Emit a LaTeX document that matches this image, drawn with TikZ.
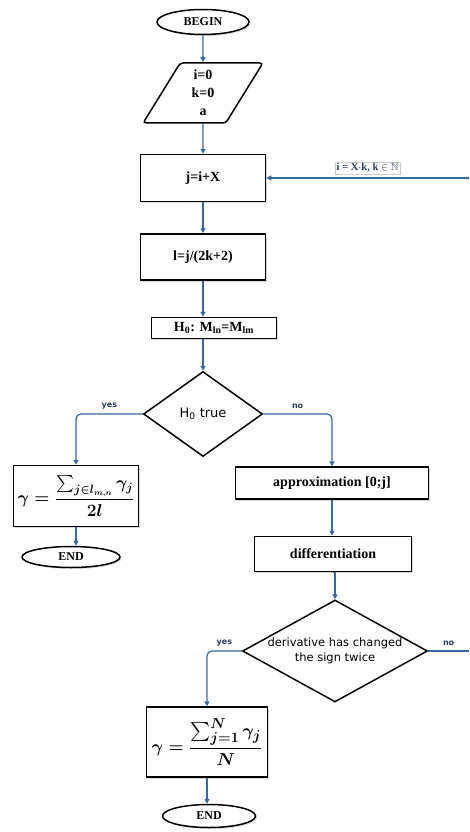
\documentclass[tikz,border=0pt]{standalone}
\usepackage{amsmath, amssymb}
\usepackage{fontspec}
\setmainfont{Liberation Serif}
\newfontfamily\dejavu{DejaVu Sans}
\usetikzlibrary{shapes.geometric, shapes.misc, arrows.meta, shadows}

\definecolor{flowblue}{HTML}{3B689B}
\definecolor{labelink}{HTML}{2B3A55}

\tikzset{
  flow/.style={-{Triangle[length=5pt, width=5pt]}, flowblue, line width=1.2pt},
  flowline/.style={flowblue, line width=1.2pt},
  procbox/.style={rectangle, draw=black, line width=1.5pt, fill=white, inner sep=0pt,
    font=\fontsize{14}{16}\selectfont\bfseries,
    drop shadow={opacity=0.3, shadow xshift=1.5pt, shadow yshift=-1.5pt}},
  termbox/.style={ellipse, draw=black, line width=1.5pt, fill=white, inner sep=0pt,
    font=\fontsize{12}{14}\selectfont\bfseries,
    drop shadow={opacity=0.3, shadow xshift=1.5pt, shadow yshift=-1.5pt}},
  iobox/.style={trapezium, trapezium left angle=68, trapezium right angle=112,
    trapezium stretches=true, draw=black, line width=1.5pt, rounded corners=3pt,
    fill=white, inner sep=0pt, align=center, font=\fontsize{14}{18}\selectfont\bfseries},
  decision/.style={diamond, draw=black, line width=1.5pt, fill=white, inner sep=0pt,
    align=center, font=\dejavu\fontsize{12}{15}\selectfont},
  branchlabel/.style={font=\dejavu\bfseries\fontsize{8}{9}\selectfont, text=labelink},
  looplabel/.style={draw=gray!40, line width=0.4pt, inner sep=1.5pt,
    font=\fontsize{10.5}{12}\selectfont\bfseries, text=labelink}
}

\begin{document}
\begin{tikzpicture}[x=1pt, y=-1pt]
\useasboundingbox (0,0) rectangle (469,832);

% start and initial values
\node[termbox, minimum width=92pt, minimum height=25pt] (begin) at (203,22) {BEGIN};
\node[iobox, minimum width=120pt, minimum height=60pt] (init) at (203,93) {i=0\\k=0\\a};

% main loop body
\node[procbox, minimum width=125pt, minimum height=47pt] (jset) at (203,178) {j=i+X};
\node[procbox, minimum width=125pt, minimum height=46pt] (lset) at (203,257) {l=j/(2k+2)};
\node[procbox, minimum width=125pt, minimum height=21pt] (hyp) at (214,328)
  {H\textsubscript{0}: M\textsubscript{ln}=M\textsubscript{lm}};
\node[decision, minimum width=119pt, minimum height=85pt, aspect=1.4,
  font=\dejavu\fontsize{13}{15}\selectfont] (test) at (203,414) {H\textsubscript{0} true};

% yes: mean over the interval
\node[procbox, minimum width=125pt, minimum height=61pt,
  font=\fontsize{17}{20}\selectfont\boldmath] (gmean) at (76,496)
  {$\gamma = \dfrac{\textstyle\sum_{j\in l_{m,n}} \gamma_j}{2l}$};
\node[termbox, minimum width=98pt, minimum height=21pt] (endA) at (71,557) {END};

% no: approximation branch
\node[procbox, minimum width=193pt, minimum height=32pt] (approx) at (332,483) {approximation [0;j]};
\node[procbox, minimum width=157pt, minimum height=35pt] (diff) at (333,554) {differentiation};
\node[decision, minimum width=185pt, minimum height=102pt, aspect=1.81,
  font=\dejavu\fontsize{11.5}{15}\selectfont] (sign) at (335,651)
  {derivative has changed\\the sign twice};

% yes: mean over all values
\node[procbox, minimum width=121pt, minimum height=70pt,
  font=\fontsize{19}{22}\selectfont\boldmath] (gsum) at (207,742)
  {$\gamma = \dfrac{\textstyle\sum_{j=1}^{N} \gamma_j}{N}$};
\node[termbox, minimum width=93pt, minimum height=23pt] (endB) at (209,816) {END};

% loop entry and exit on the right edge
\coordinate (loopin) at (469,178);
\coordinate (loopout) at (469,651);

% connectors
\draw[flow] (begin.south) -- (init.north);
\draw[flow] (init.south) -- (jset.north);
\draw[flow] (jset.south) -- (lset.north);
\draw[flow] (lset.south) -- (lset.south |- hyp.north);
\draw[flow] (hyp.south -| test.north) -- (test.north);
\draw[flow] (loopin) -- (jset.east)
  node[midway, above=4pt, looplabel] {i = X$\cdot$k, k $\in$ $\mathbb{N}$};

\draw[flow, rounded corners=5pt] (test.west) -| (gmean.north)
  node[pos=0.25, above=1pt, branchlabel] {yes};
\draw[flow, rounded corners=5pt] (test.east) -| (approx.north)
  node[pos=0.25, above=1pt, branchlabel] {no};
\draw[flow] (gmean.south) -- (gmean.south |- endA.north);

\draw[flow] (approx.south) -- (approx.south |- diff.north);
\draw[flow] (diff.south) -- (diff.south -| sign.north) -- (sign.north);
\draw[flow, rounded corners=5pt] (sign.west) -| (gsum.north)
  node[pos=0.25, above=1pt, branchlabel] {yes};
\draw[flowline] (sign.east) -- (loopout)
  node[midway, above=1pt, branchlabel] {no};
\draw[flow] (gsum.south) -- (gsum.south |- endB.north);

\end{tikzpicture}
\end{document}
